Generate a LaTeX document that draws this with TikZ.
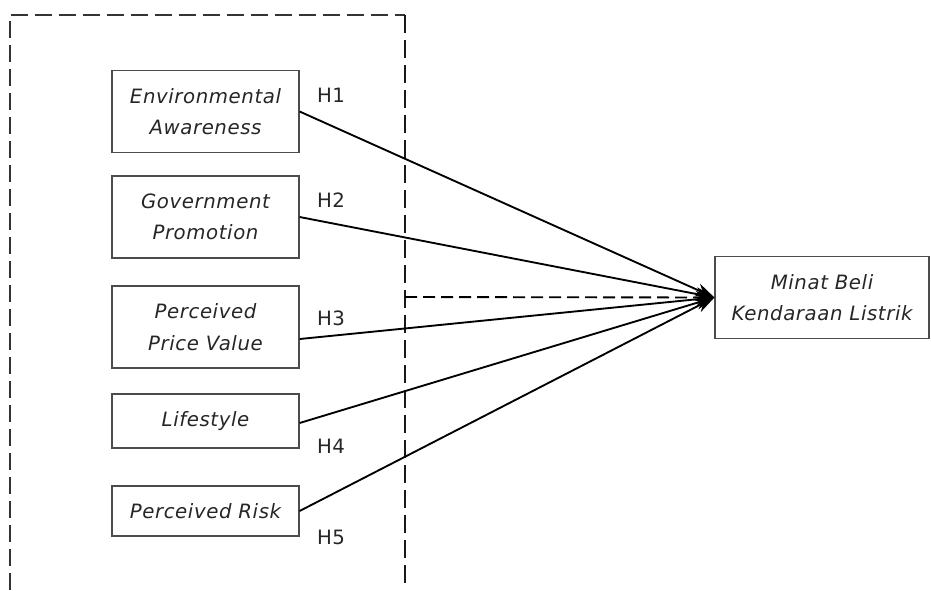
\documentclass[tikz,border=0pt]{standalone}
\usepackage{fontspec}
\setmainfont{DejaVu Sans}[LetterSpace=3]
\usetikzlibrary{arrows.meta}
\begin{document}
\begin{tikzpicture}[x=0.75pt,y=-0.75pt,
  varbox/.style={draw=black!70, line width=0.9pt, minimum width=140.25pt, align=center, inner sep=0pt,
    font=\fontsize{14.8}{23.5}\selectfont\itshape, text=black!85},
  hyp/.style={font=\fontsize{14.8}{17}\selectfont, text=black!85},
  link/.style={line width=1.4pt, -{Stealth[length=14pt,width=10pt]}},
  frame/.style={dash pattern=on 12.5pt off 5.5pt, line width=0.8pt, draw=black!80},
  divider/.style={dash pattern=on 13.5pt off 5.25pt, line width=2pt, draw=black!90}]
\useasboundingbox (0,0) rectangle (931,590);
% frame
\coordinate (fl) at (10,590);
\coordinate (ftl) at (10,15);
\coordinate (ftr) at (405,15);
\coordinate (fb) at (405,586);
\coordinate (hstart) at (405,297);
\draw[frame] (fl) -- (ftl) -- (ftr);
\draw[divider] (ftr) -- (fb);
% boxes
\node[varbox, minimum height=62pt] (b1) at (205.5,111.5) {Environmental\\Awareness};
\node[varbox, minimum height=61.5pt] (b2) at (205.5,217) {Government\\Promotion};
\node[varbox, minimum height=61.5pt] (b3) at (205.5,327) {Perceived\\Price Value};
\node[varbox, minimum height=40.5pt] (b4) at (205.5,421) {Lifestyle};
\node[varbox, minimum height=37.5pt] (b5) at (205.5,511) {Perceived Risk};
\node[varbox, minimum width=160.5pt, minimum height=61pt] (t) at (822,297.5) {Minat Beli\\Kendaraan Listrik};
% labels
\node[hyp] (h1) at (331,95) {H1};
\node[hyp] (h2) at (331,200) {H2};
\node[hyp] (h3) at (331,318) {H3};
\node[hyp] (h4) at (331,446) {H4};
\node[hyp] (h5) at (331,537) {H5};
% links
\draw[link] (b1.east) -- (t.west);
\draw[link] (b2.east) -- (t.west);
\draw[link] ([yshift=-9pt]b3.east) -- (t.west);
\draw[link] ([yshift=-1.5pt]b4.east) -- (t.west);
\draw[link] (b5.east) -- (t.west);
\draw[link, dash pattern=on 9pt off 4.5pt] (hstart) -- (t.west);
\end{tikzpicture}
\end{document}
